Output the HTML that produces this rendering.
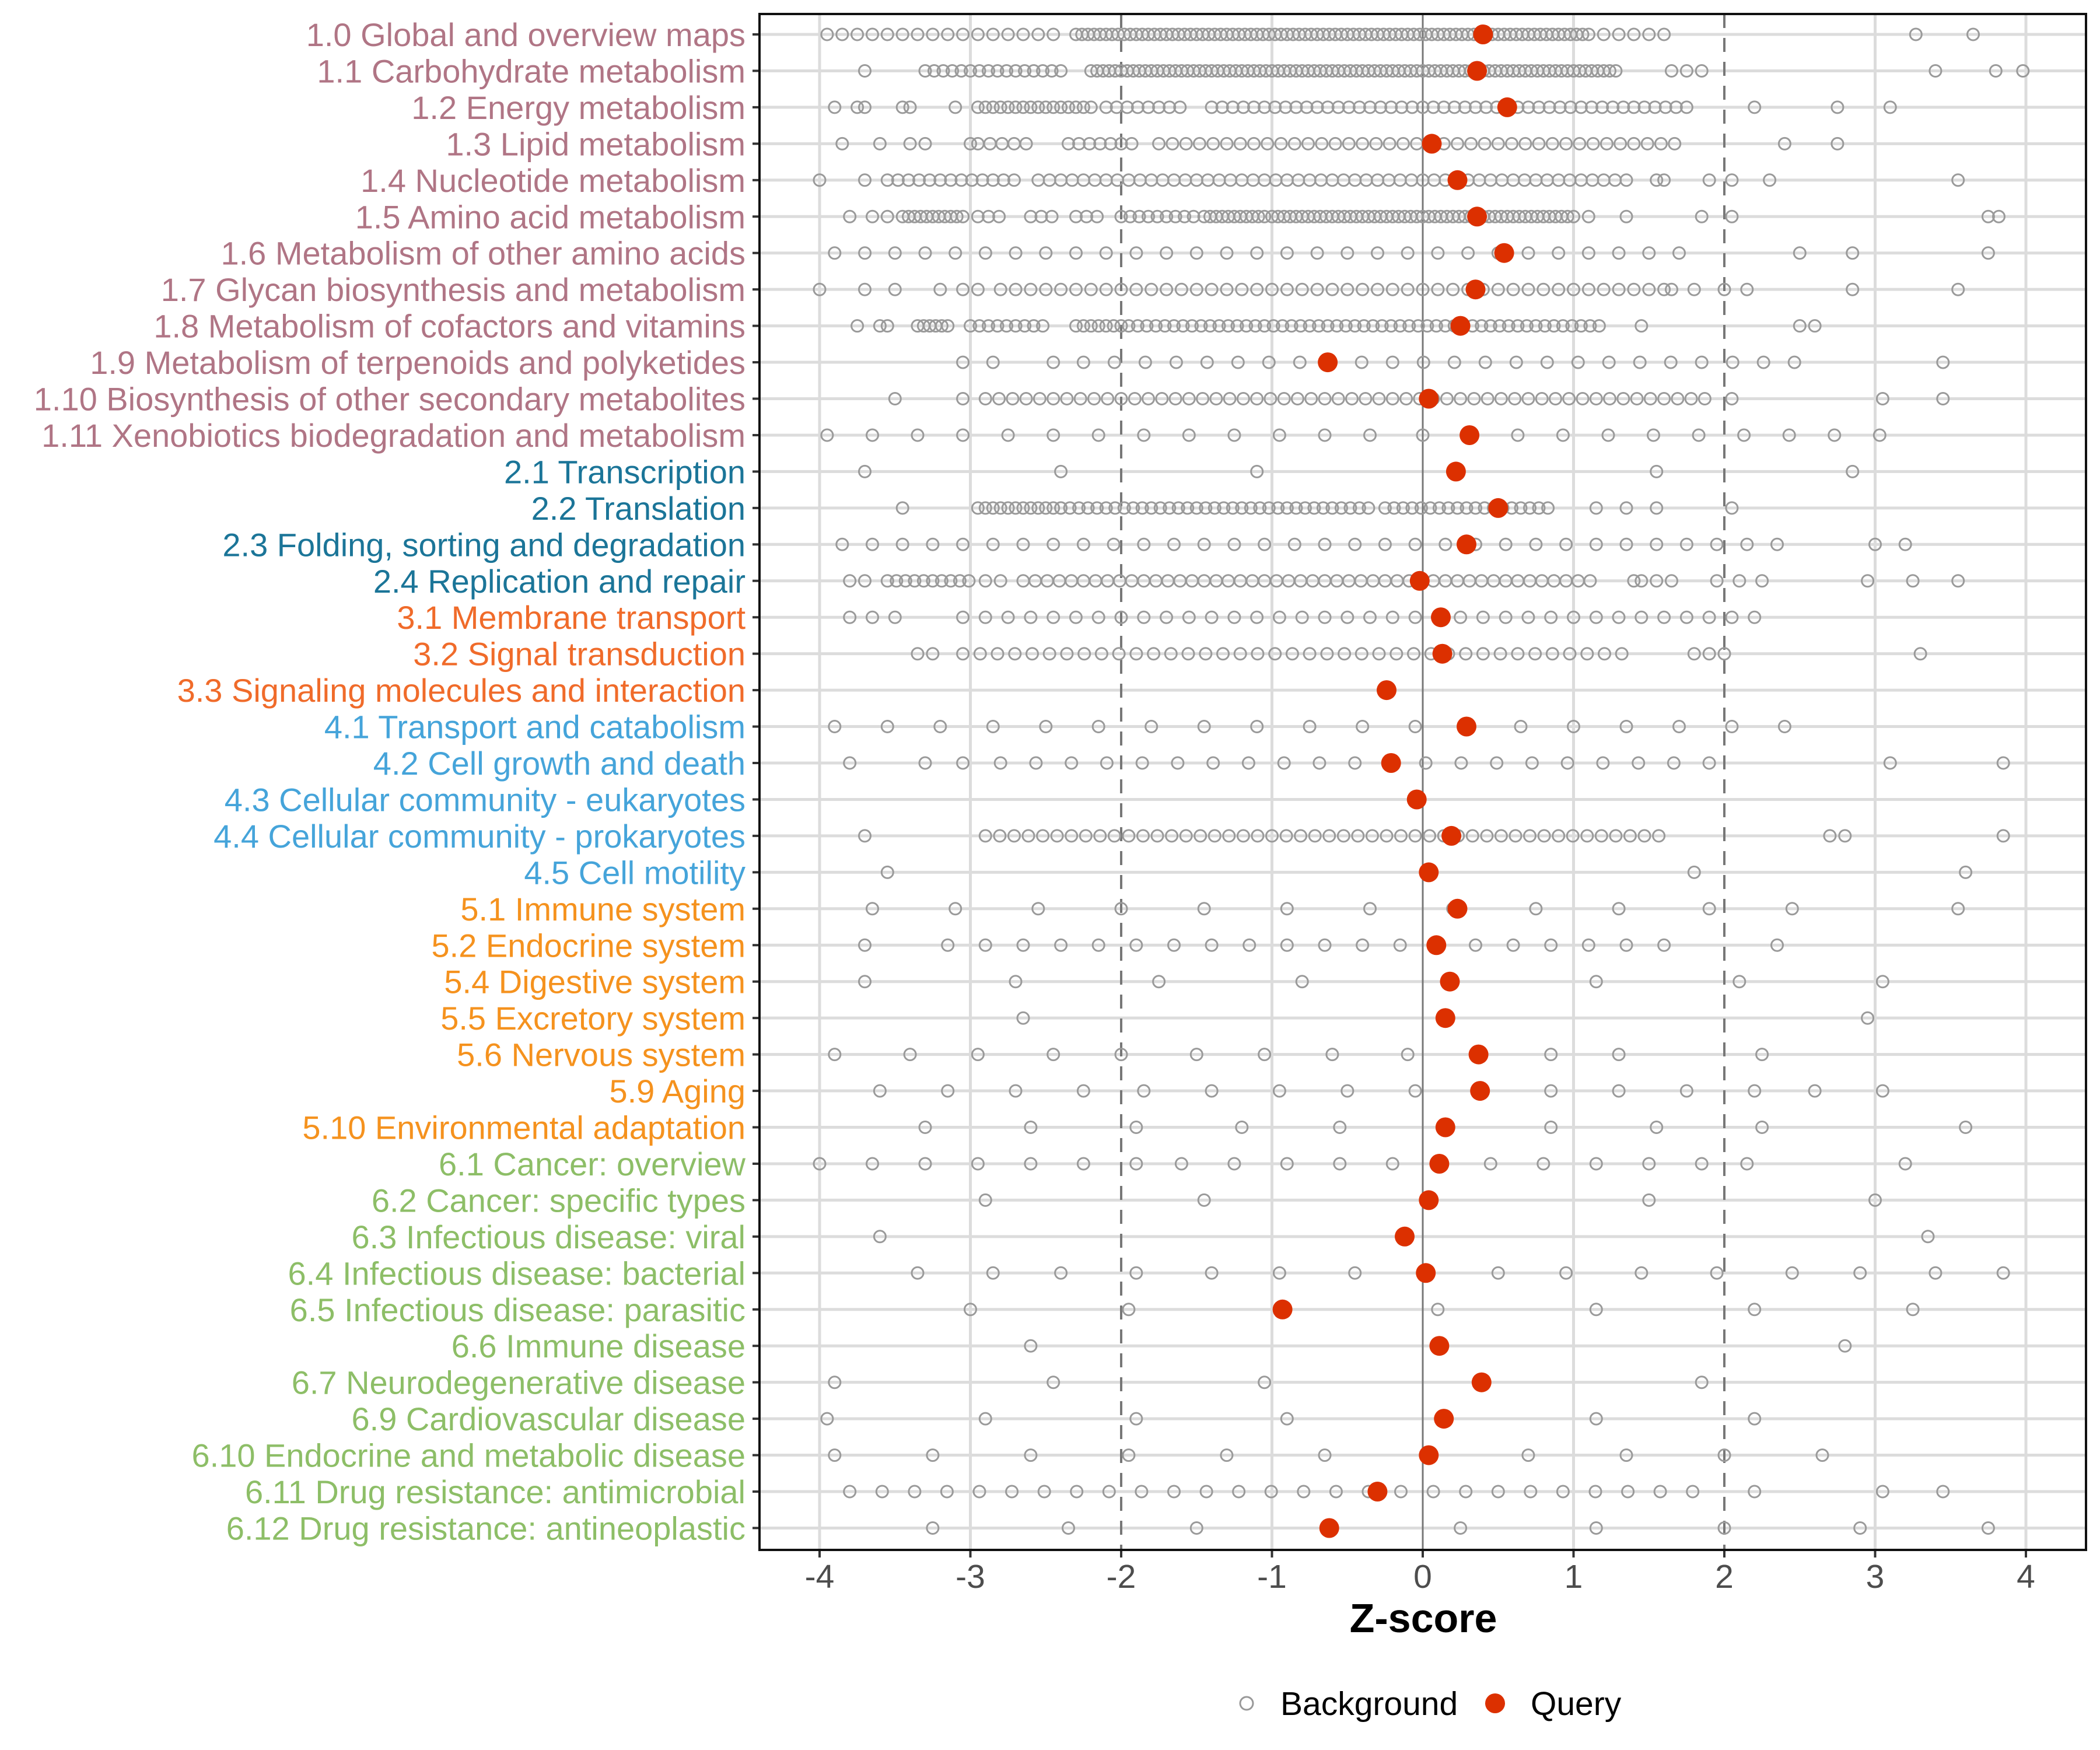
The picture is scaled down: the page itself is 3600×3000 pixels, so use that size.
<!DOCTYPE html>
<html><head><meta charset="utf-8"><style>
html,body{margin:0;padding:0;background:#fff;}
svg{display:block;font-family:"Liberation Sans",Arial,sans-serif;}
</style></head><body>
<svg id="s" width="3600" height="3000" viewBox="0 0 3600 3000" xmlns="http://www.w3.org/2000/svg">
<rect width="3600" height="3000" fill="#fff"/>
<g id="grid"></g>
<g id="pts"></g>
<g id="labs"></g>
<rect x="1302" y="24" width="2274" height="2633" fill="none" stroke="#111" stroke-width="4"/>
<text x="2440" y="2798" text-anchor="middle" font-size="70" font-weight="bold" fill="#000">Z-score</text>
<circle cx="2137" cy="2920" r="11" fill="none" stroke="#999" stroke-width="3"/>
<text x="2195" y="2940" font-size="57" fill="#000">Background</text>
<circle cx="2563" cy="2920" r="17" fill="#DC3000"/>
<text x="2624" y="2940" font-size="57" fill="#000">Query</text>
</svg>
<script>
var NS="http://www.w3.org/2000/svg";
function el(p,t,a,txt){var e=document.createElementNS(NS,t);for(var k in a)e.setAttribute(k,a[k]);if(txt)e.textContent=txt;p.appendChild(e);return e;}
var X=function(z){return 2439+z*258.5;};
var Y=function(i){return 59+i*62.45;};
var rows=[
["1.0 Global and overview maps","#B07585",0.40,[[-3.95,-2.4,0.1],[-2.3,1.1,0.04],[1.2,1.6,0.1]],[3.27,3.65]],
["1.1 Carbohydrate metabolism","#B07585",0.36,[[-3.3,-2.4,0.06],[-2.2,1.3,0.04]],[-3.7,1.65,1.75,1.85,3.4,3.8,3.98]],
["1.2 Energy metabolism","#B07585",0.56,[[-2.95,-2.2,0.05],[-2.1,-1.6,0.07],[-1.4,1.75,0.07]],[-3.9,-3.75,-3.7,-3.45,-3.4,-3.1,2.2,2.75,3.1]],
["1.3 Lipid metabolism","#B07585",0.06,[[-2.95,-2.6,0.08],[-2.35,-1.9,0.07],[-1.75,1.75,0.09]],[-3.85,-3.6,-3.4,-3.3,-3.0,2.4,2.75]],
["1.4 Nucleotide metabolism","#B07585",0.23,[[-3.55,-2.65,0.07],[-2.55,1.4,0.075]],[-4.0,-3.7,1.55,1.6,1.9,2.05,2.3,3.55]],
["1.5 Amino acid metabolism","#B07585",0.36,[[-3.45,-3.05,0.04],[-2.95,-2.75,0.07],[-2.6,-2.4,0.07],[-2.3,-2.1,0.07],[-2.0,-1.5,0.06],[-1.45,-1.05,0.04],[-1.0,1.0,0.04]],[-3.8,-3.65,-3.55,1.1,1.35,1.85,2.05,3.75,3.82]],
["1.6 Metabolism of other amino acids","#B07585",0.54,[[-3.9,1.75,0.2]],[2.5,2.85,3.75]],
["1.7 Glycan biosynthesis and metabolism","#B07585",0.35,[[-2.8,-2.1,0.1],[-2.0,1.6,0.1]],[-4.0,-3.7,-3.5,-3.2,-3.05,-2.95,1.65,1.8,2.0,2.15,2.85,3.55]],
["1.8 Metabolism of cofactors and vitamins","#B07585",0.25,[[-3.35,-3.15,0.04],[-3.0,-2.5,0.06],[-2.25,-2.0,0.05],[-1.95,1.2,0.06]],[-3.75,-3.6,-3.55,-2.3,1.45,2.5,2.6]],
["1.9 Metabolism of terpenoids and polyketides","#B07585",-0.63,[[-2.25,2.65,0.205]],[-3.05,-2.85,-2.45,3.45]],
["1.10 Biosynthesis of other secondary metabolites","#B07585",0.04,[[-2.9,1.95,0.09]],[-3.5,-3.05,2.05,3.05,3.45]],
["1.11 Xenobiotics biodegradation and metabolism","#B07585",0.31,[[-3.95,-0.3,0.3],[0.33,3.05,0.3]],[0.0]],
["2.1 Transcription","#1B7598",0.22,[],[-3.7,-2.4,-1.1,1.55,2.85]],
["2.2 Translation","#1B7598",0.50,[[-2.95,-2.4,0.05],[-2.4,-0.35,0.06],[-0.25,0.85,0.06]],[-3.45,1.15,1.35,1.55,2.05]],
["2.3 Folding, sorting and degradation","#1B7598",0.29,[[-3.85,2.35,0.2]],[3.0,3.2]],
["2.4 Replication and repair","#1B7598",-0.02,[[-3.55,-3.0,0.06],[-2.65,1.15,0.08]],[-3.8,-3.7,-2.9,-2.8,1.4,1.45,1.55,1.65,1.95,2.1,2.25,2.95,3.25,3.55]],
["3.1 Membrane transport","#F06B2A",0.12,[[-3.05,2.25,0.15]],[-3.8,-3.65,-3.5]],
["3.2 Signal transduction","#F06B2A",0.13,[[-3.05,1.4,0.115]],[-3.35,-3.25,1.8,1.9,2.0,3.3]],
["3.3 Signaling molecules and interaction","#F06B2A",-0.24,[],[]],
["4.1 Transport and catabolism","#45A4DA",0.29,[[-3.9,2.4,0.35]],[]],
["4.2 Cell growth and death","#45A4DA",-0.21,[[-2.8,1.95,0.235]],[-3.8,-3.3,-3.05,3.1,3.85]],
["4.3 Cellular community - eukaryotes","#45A4DA",-0.04,[],[]],
["4.4 Cellular community - prokaryotes","#45A4DA",0.19,[[-2.9,1.65,0.095]],[-3.7,2.7,2.8,3.85]],
["4.5 Cell motility","#45A4DA",0.04,[],[-3.55,1.8,3.6]],
["5.1 Immune system","#F5921E",0.23,[],[-3.65,-3.1,-2.55,-2.0,-1.45,-0.9,-0.35,0.2,0.75,1.3,1.9,2.45,3.55]],
["5.2 Endocrine system","#F5921E",0.09,[],[-3.7,-3.15,-2.9,-2.65,-2.4,-2.15,-1.9,-1.65,-1.4,-1.15,-0.9,-0.65,-0.4,-0.15,0.35,0.6,0.85,1.1,1.35,1.6,2.35]],
["5.4 Digestive system","#F5921E",0.18,[],[-3.7,-2.7,-1.75,-0.8,1.15,2.1,3.05]],
["5.5 Excretory system","#F5921E",0.15,[],[-2.65,2.95]],
["5.6 Nervous system","#F5921E",0.37,[],[-3.9,-3.4,-2.95,-2.45,-2.0,-1.5,-1.05,-0.6,-0.1,0.85,1.3,2.25]],
["5.9 Aging","#F5921E",0.38,[],[-3.6,-3.15,-2.7,-2.25,-1.85,-1.4,-0.95,-0.5,-0.05,0.85,1.3,1.75,2.2,2.6,3.05]],
["5.10 Environmental adaptation","#F5921E",0.15,[],[-3.3,-2.6,-1.9,-1.2,-0.55,0.85,1.55,2.25,3.6]],
["6.1 Cancer: overview","#8DBE67",0.11,[],[-4.0,-3.65,-3.3,-2.95,-2.6,-2.25,-1.9,-1.6,-1.25,-0.9,-0.55,-0.2,0.45,0.8,1.15,1.5,1.85,2.15,3.2]],
["6.2 Cancer: specific types","#8DBE67",0.04,[],[-2.9,-1.45,1.5,3.0]],
["6.3 Infectious disease: viral","#8DBE67",-0.12,[],[-3.6,3.35]],
["6.4 Infectious disease: bacterial","#8DBE67",0.02,[],[-3.35,-2.85,-2.4,-1.9,-1.4,-0.95,-0.45,0.5,0.95,1.45,1.95,2.45,2.9,3.4,3.85]],
["6.5 Infectious disease: parasitic","#8DBE67",-0.93,[],[-3.0,-1.95,0.1,1.15,2.2,3.25]],
["6.6 Immune disease","#8DBE67",0.11,[],[-2.6,2.8]],
["6.7 Neurodegenerative disease","#8DBE67",0.39,[],[-3.9,-2.45,-1.05,1.85]],
["6.9 Cardiovascular disease","#8DBE67",0.14,[],[-3.95,-2.9,-1.9,-0.9,1.15,2.2]],
["6.10 Endocrine and metabolic disease","#8DBE67",0.04,[],[-3.9,-3.25,-2.6,-1.95,-1.3,-0.65,0.7,1.35,2.0,2.65]],
["6.11 Drug resistance: antimicrobial","#8DBE67",-0.30,[[-3.8,1.8,0.215]],[2.2,3.05,3.45]],
["6.12 Drug resistance: antineoplastic","#8DBE67",-0.62,[],[-3.25,-2.35,-1.5,0.25,1.15,2.0,2.9,3.75]]
];
var g=document.getElementById("grid"),p=document.getElementById("pts"),l=document.getElementById("labs");
rows.forEach(function(r,i){el(g,"line",{x1:1302,x2:3576,y1:Y(i),y2:Y(i),stroke:"#DCDCDC","stroke-width":5});});
for(var z=-4;z<=4;z++){
 if(z==0||z==2||z==-2)continue;
 el(g,"line",{x1:X(z),x2:X(z),y1:24,y2:2657,stroke:"#DCDCDC","stroke-width":5});
}
el(g,"line",{x1:X(0),x2:X(0),y1:24,y2:2657,stroke:"#777","stroke-width":3});
[-2,2].forEach(function(z){el(g,"line",{x1:X(z),x2:X(z),y1:24,y2:2657,stroke:"#777","stroke-width":4,"stroke-dasharray":"24,17"});});
for(var z=-4;z<=4;z++){
 el(l,"line",{x1:X(z),x2:X(z),y1:2657,y2:2670,stroke:"#333","stroke-width":4});
 el(l,"text",{x:X(z),y:2722,"text-anchor":"middle","font-size":57,fill:"#4D4D4D"},(z<0?"-":"")+Math.abs(z));
}
rows.forEach(function(r,i){
 var y=Y(i);
 el(l,"line",{x1:1290,x2:1302,y1:y,y2:y,stroke:"#333","stroke-width":4});
 el(l,"text",{x:1278,y:y+20,"text-anchor":"end","font-size":56,fill:r[1]},r[0]);
 var xs=r[4].slice();
 r[3].forEach(function(s){for(var v=s[0];v<=s[1]+1e-9;v+=s[2])xs.push(v);});
 xs.forEach(function(v){el(p,"circle",{cx:X(v).toFixed(1),cy:y.toFixed(1),r:10,fill:"none",stroke:"#9A9A9A","stroke-width":3});});
});
rows.forEach(function(r,i){el(p,"circle",{cx:X(r[2]).toFixed(1),cy:Y(i).toFixed(1),r:17,fill:"#DC3000"});});
</script>
</body></html>
